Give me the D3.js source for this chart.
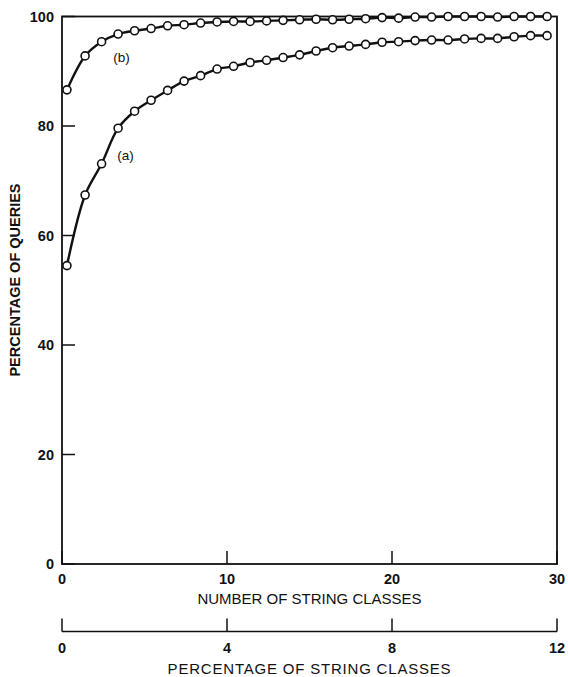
<!DOCTYPE html>
<html>
<head>
<meta charset="utf-8">
<script src="https://cdn.jsdelivr.net/npm/d3@7"></script>
<style>
  body { margin: 0; background: #fff; }
  svg { display: block; font-family: "Liberation Sans", Arial, sans-serif; }
  .tick-label { font-size: 14.5px; font-weight: bold; fill: #111; }
  .title { font-size: 15px; fill: #111; }
</style>
</head>
<body>
<svg id="chart" width="568" height="677"></svg>
<script>
// values
var stringClasses = [0.3, 1.4, 2.4, 3.4, 4.4, 5.4, 6.4, 7.4, 8.4, 9.4,
    10.4, 11.4, 12.4, 13.4, 14.4, 15.4, 16.4, 17.4, 18.4, 19.4,
    20.4, 21.4, 22.4, 23.4, 24.4, 25.4, 26.4, 27.4, 28.4, 29.4];
var seriesA = [54.5, 67.4, 73.1, 79.6, 82.7, 84.7, 86.5, 88.2, 89.2, 90.4,
    90.9, 91.6, 92.0, 92.5, 93.0, 93.7, 94.3, 94.6, 94.9, 95.3,
    95.4, 95.6, 95.7, 95.7, 95.9, 96.0, 96.0, 96.3, 96.5, 96.5];
var seriesB = [86.6, 92.8, 95.4, 96.8, 97.4, 97.8, 98.3, 98.5, 98.8, 99.0,
    99.1, 99.1, 99.2, 99.3, 99.4, 99.5, 99.4, 99.5, 99.6, 99.8,
    99.7, 99.9, 99.9, 100, 100, 100, 99.9, 100, 100, 100];
var seriesNames = ["(a)", "(b)"];
var yTicks = [0, 20, 40, 60, 80, 100];
var xTicks = [0, 10, 20, 30];
var pctTicks = [0, 4, 8, 12];

var plotLeft = 62, plotRight = 557, plotTop = 16.5, plotBottom = 564, tickLen = 13;

var svg = d3.select("#chart");
var x = d3.scaleLinear().domain([0, 30]).range([plotLeft, plotRight]);
var y = d3.scaleLinear().domain([0, 100]).range([plotBottom, plotTop]);
var xPct = d3.scaleLinear().domain([0, 12]).range([plotLeft, plotRight]);

// frame
svg.append("rect")
    .attr("x", x(0)).attr("y", y(100))
    .attr("width", x(30) - x(0)).attr("height", y(0) - y(100))
    .attr("fill", "none").attr("stroke", "#111").attr("stroke-width", 1.8);

// y ticks (inside) and labels
svg.selectAll(".ytick").data(yTicks).enter().append("line")
    .attr("x1", x(0)).attr("x2", x(0) + tickLen)
    .attr("y1", function (d) { return y(d); }).attr("y2", function (d) { return y(d); })
    .attr("stroke", "#111").attr("stroke-width", 1.5);
svg.selectAll(".ylabel").data(yTicks).enter().append("text")
    .attr("class", "tick-label")
    .attr("x", 54).attr("y", function (d) { return y(d) + 5; })
    .attr("text-anchor", "end")
    .text(function (d) { return d; });

// x ticks (inside) and labels
svg.selectAll(".xtick").data(xTicks).enter().append("line")
    .attr("x1", function (d) { return x(d); }).attr("x2", function (d) { return x(d); })
    .attr("y1", y(0)).attr("y2", y(0) - tickLen)
    .attr("stroke", "#111").attr("stroke-width", 1.5);
svg.selectAll(".xlabel").data(xTicks).enter().append("text")
    .attr("class", "tick-label")
    .attr("x", function (d) { return x(d); }).attr("y", 584)
    .attr("text-anchor", "middle")
    .text(function (d) { return d; });
svg.append("text").attr("class", "title")
    .attr("x", (plotLeft + plotRight) / 2).attr("y", 604)
    .attr("text-anchor", "middle")
    .text("NUMBER OF STRING CLASSES");

// second axis: percentage of string classes
var pctY = 631.5;
svg.append("line")
    .attr("x1", xPct(0)).attr("x2", xPct(12)).attr("y1", pctY).attr("y2", pctY)
    .attr("stroke", "#111").attr("stroke-width", 1.6);
svg.selectAll(".ptick").data(pctTicks).enter().append("line")
    .attr("x1", function (d) { return xPct(d); }).attr("x2", function (d) { return xPct(d); })
    .attr("y1", pctY).attr("y2", pctY - tickLen)
    .attr("stroke", "#111").attr("stroke-width", 1.5);
svg.selectAll(".plabel").data(pctTicks).enter().append("text")
    .attr("class", "tick-label")
    .attr("x", function (d) { return xPct(d); }).attr("y", 653)
    .attr("text-anchor", "middle")
    .text(function (d) { return d; });
svg.append("text").attr("class", "title")
    .attr("x", (plotLeft + plotRight) / 2).attr("y", 674)
    .attr("text-anchor", "middle")
    .style("letter-spacing", "0.8px")
    .text("PERCENTAGE OF STRING CLASSES");

// y title
svg.append("text")
    .attr("class", "tick-label")
    .attr("transform", "translate(20,280) rotate(-90)")
    .attr("text-anchor", "middle")
    .style("font-size", "14.5px")
    .text("PERCENTAGE OF QUERIES");

// curves
var line = d3.line()
    .x(function (d) { return x(d[0]); })
    .y(function (d) { return y(d[1]); })
    .curve(d3.curveCatmullRom.alpha(0.5));

[seriesA, seriesB].forEach(function (vals) {
    var pts = stringClasses.map(function (c, i) { return [c, vals[i]]; });
    svg.append("path").datum(pts)
        .attr("d", line)
        .attr("fill", "none").attr("stroke", "#111").attr("stroke-width", 2.4);
    svg.selectAll(null).data(pts).enter().append("circle")
        .attr("cx", function (d) { return x(d[0]); })
        .attr("cy", function (d) { return y(d[1]); })
        .attr("r", 4)
        .attr("fill", "#fff").attr("stroke", "#111").attr("stroke-width", 1.6);
});

// series labels
svg.append("text").attr("class", "title")
    .attr("x", 125.5).attr("y", 160).attr("text-anchor", "middle")
    .style("font-size", "13.5px")
    .text(seriesNames[0]);
svg.append("text").attr("class", "title")
    .attr("x", 121.5).attr("y", 62).attr("text-anchor", "middle")
    .style("font-size", "13.5px")
    .text(seriesNames[1]);
</script>
</body>
</html>
